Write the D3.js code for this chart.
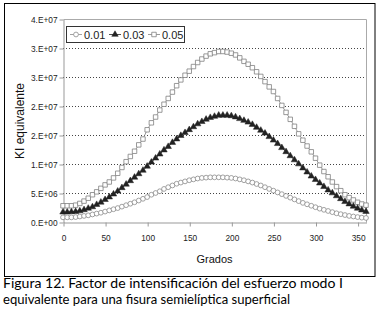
<!DOCTYPE html>
<html><head><meta charset="utf-8">
<script src="https://cdn.jsdelivr.net/npm/d3@7"></script>
<style>html,body{margin:0;padding:0;background:#fff;}svg{display:block;}</style>
</head><body>
<script>
const angles = d3.range(0, 361, 5);
const s001 = [0.8,0.8,0.8,0.85,0.95,1.05,1.15,1.3,1.45,1.6,1.8,2.0,2.2,2.4,2.65,2.9,3.15,3.4,3.7,4.0,4.3,4.7,5.0,5.3,5.7,6.0,6.3,6.6,6.8,7.0,7.2,7.35,7.5,7.6,7.65,7.7,7.7,7.7,7.7,7.65,7.6,7.5,7.35,7.2,7.0,6.8,6.55,6.3,6.0,5.7,5.4,5.1,4.8,4.5,4.2,3.9,3.6,3.3,3.05,2.8,2.55,2.3,2.1,1.9,1.7,1.5,1.35,1.2,1.05,0.95,0.85,0.75,0.7];
const s003 = [1.7,1.7,1.75,1.8,1.9,2.1,2.35,2.6,3.0,3.4,3.85,4.3,4.8,5.3,5.9,6.5,7.1,7.7,8.3,8.9,9.6,10.3,11.0,11.7,12.4,13.0,13.7,14.3,14.9,15.4,15.9,16.4,16.9,17.3,17.7,18.0,18.2,18.4,18.4,18.4,18.3,18.1,17.8,17.5,17.2,16.8,16.3,15.8,15.3,14.7,14.1,13.5,12.8,12.1,11.4,10.7,10.0,9.3,8.6,7.9,7.3,6.7,6.1,5.5,5.0,4.5,4.0,3.5,3.1,2.7,2.35,2.05,1.8];
const s005 = [2.8,2.8,2.8,2.9,3.2,3.6,4.1,4.7,5.2,5.8,6.4,6.9,7.6,8.4,9.4,10.4,11.3,12.2,13.3,14.3,15.9,17.1,18.1,19.3,20.3,21.3,22.4,23.5,24.5,25.3,26.0,26.8,27.5,28.1,28.6,29.0,29.2,29.4,29.4,29.3,29.1,28.8,28.3,27.7,27.2,26.6,25.9,25.1,24.2,23.3,22.5,21.3,20.1,18.9,17.7,16.5,15.2,14.1,13.1,12.1,11.0,9.8,8.7,7.8,6.9,6.1,5.4,4.7,4.2,3.8,3.4,3.1,2.9];
const seriesNames = ["0.01","0.03","0.05"];
const yTickValues = [0,5e6,1e7,1.5e7,2e7,2.5e7,3e7,3.5e7];
const yTickLabels = ["0.E+00","5.E+06","1.E+07","2.E+07","2.E+07","3.E+07","3.E+07","4.E+07"];
const xTickValues = [0,50,100,150,200,250,300,350];
const xTitle = "Grados";
const yTitle = "KI equivalente";
const caption = ["Figura 12. Factor de intensificación del esfuerzo modo I","equivalente para una fisura semielíptica superficial"];

const W = 379, H = 311;
const svg = d3.select("body").append("svg").attr("width", W).attr("height", H);
svg.append("rect").attr("width", W).attr("height", H).attr("fill", "#fff");

// outer chart frame
svg.append("rect").attr("x", 4.5).attr("y", 3.5).attr("width", 370.5).attr("height", 273)
  .attr("fill", "#fff").attr("stroke", "#000").attr("stroke-width", 1);

const L = 63, R = 366, T = 19, B = 222;
const x = d3.scaleLinear().domain([0, 360]).range([L, R]);
const y = d3.scaleLinear().domain([0, 3.5e7]).range([B, T]);

// gridlines
svg.append("g").selectAll("line").data(yTickValues.filter(v => v > 0 && v < 3.5e7)).join("line")
  .attr("x1", L).attr("x2", R).attr("y1", d => Math.round(y(d)) + 0.5).attr("y2", d => Math.round(y(d)) + 0.5)
  .attr("stroke", "#444").attr("stroke-width", 1).attr("stroke-dasharray", "1,2");

// plot border (top/right)
svg.append("path").attr("d", `M${L + 0.5},${T + 0.5}H${R + 0.5}V${B + 0.5}`)
  .attr("fill", "none").attr("stroke", "#aaa").attr("stroke-width", 1);

// axes
const yAxis = d3.axisLeft(y).tickValues(yTickValues).tickFormat((d, i) => yTickLabels[i]).tickSize(4).tickSizeOuter(0).tickPadding(2);
const gy = svg.append("g").attr("transform", `translate(${L + 0.5},0.5)`).call(yAxis);
gy.select(".domain").attr("stroke", "#999");
gy.selectAll(".tick line").attr("stroke", "#999");
gy.selectAll("text").attr("font-family", "Liberation Sans, Arial, sans-serif").attr("font-size", 8.3).attr("fill", "#222");

const xAxis = d3.axisBottom(x).tickValues(xTickValues).tickFormat(d3.format("d")).tickSize(4).tickSizeOuter(0).tickPadding(9);
const gx = svg.append("g").attr("transform", `translate(0.5,${B + 0.5})`).call(xAxis);
gx.select(".domain").attr("stroke", "#999");
gx.selectAll(".tick line").attr("stroke", "#999");
gx.selectAll("text").attr("font-family", "Liberation Sans, Arial, sans-serif").attr("font-size", 8.3).attr("fill", "#222");

// titles
svg.append("text").attr("x", (L + R) / 2).attr("y", 263).attr("text-anchor", "middle")
  .attr("font-family", "Liberation Sans, Arial, sans-serif").attr("font-size", 11).attr("fill", "#111").text(xTitle);
svg.append("text").attr("transform", `translate(24,121) rotate(-90)`).attr("text-anchor", "middle")
  .attr("font-family", "Liberation Sans, Arial, sans-serif").attr("font-size", 12).attr("fill", "#111").text(yTitle);

// series
const data = [s001, s003, s005].map(arr => arr.map((v, i) => ({a: angles[i], v: v * 1e6})));
const colors = ["#8a8a8a", "#222", "#808080"];
const line = d3.line().x(d => x(d.a)).y(d => y(d.v));
const symbols = [d3.symbolCircle, d3.symbolTriangle, d3.symbolSquare];
const sizes = [18, 18, 20];
const fills = ["#fff", "#222", "#fff"];

[2, 1, 0].forEach(k => {
  svg.append("path").datum(data[k]).attr("d", line).attr("fill", "none").attr("stroke", colors[k]).attr("stroke-width", 0.8);
  svg.append("g").selectAll("path").data(data[k]).join("path")
    .attr("transform", d => `translate(${x(d.a)},${y(d.v)})`)
    .attr("d", d3.symbol().type(symbols[k]).size(sizes[k]))
    .attr("fill", fills[k]).attr("stroke", colors[k]).attr("stroke-width", k === 1 ? 0.5 : 0.8);
});

// legend
const lg = svg.append("g");
lg.append("rect").attr("x", 66.5).attr("y", 26.5).attr("width", 118).attr("height", 16)
  .attr("fill", "#fff").attr("stroke", "#333").attr("stroke-width", 1);
const lx = [70, 109, 148];
seriesNames.forEach((name, k) => {
  lg.append("line").attr("x1", lx[k]).attr("x2", lx[k] + 12).attr("y1", 34.5).attr("y2", 34.5)
    .attr("stroke", colors[k]).attr("stroke-width", 0.8);
  lg.append("path").attr("transform", `translate(${lx[k] + 6},34.5)`)
    .attr("d", d3.symbol().type(symbols[k]).size(sizes[k]))
    .attr("fill", fills[k]).attr("stroke", colors[k]).attr("stroke-width", k === 1 ? 0.5 : 0.8);
  lg.append("text").attr("x", lx[k] + 14).attr("y", 38.5)
    .attr("font-family", "Liberation Sans, Arial, sans-serif").attr("font-size", 11).attr("fill", "#222").text(name);
});

// caption
svg.append("text").attr("x", 3).attr("y", 288).attr("textLength", 340).attr("lengthAdjust", "spacingAndGlyphs")
  .attr("font-family", "Lato, sans-serif").attr("font-size", 13.5).attr("fill", "#000").text(caption[0]);
svg.append("text").attr("x", 3).attr("y", 304).attr("textLength", 287).attr("lengthAdjust", "spacingAndGlyphs")
  .attr("font-family", "Lato, sans-serif").attr("font-size", 13.5).attr("fill", "#000").text(caption[1]);
</script>
</body></html>
